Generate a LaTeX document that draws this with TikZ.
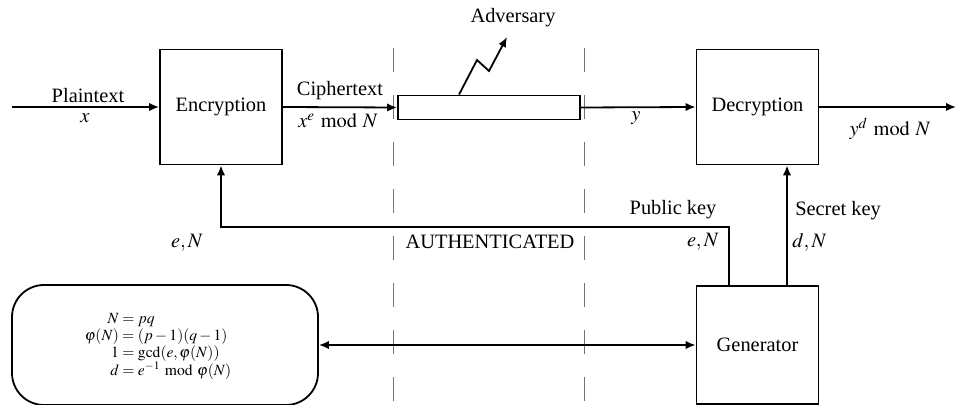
\documentclass[tikz,border=0pt]{standalone}
\usepackage{mathptmx}
\usepackage[no-math]{fontspec}
\setmainfont{Liberation Serif}
\usepackage{amsmath}
\usetikzlibrary{arrows.meta}

\tikzset{
  wire/.style={line width=0.9pt, draw=black},
  arr/.style={wire, -{Latex[length=5pt,width=4.2pt]}},
  darr/.style={wire, {Latex[length=5pt,width=4.2pt]}-{Latex[length=5pt,width=4.2pt]}},
  blockbox/.style={draw, line width=0.9pt, minimum width=61pt, minimum height=57.5pt, inner sep=0pt},
  chanbox/.style={draw, line width=0.9pt, minimum width=91pt, minimum height=12pt, inner sep=0pt},
  pillbox/.style={draw, line width=0.9pt, rounded corners=16pt, minimum width=153pt, minimum height=60pt, inner sep=0pt},
  lbl/.style={inner sep=0pt},
  zone/.style={draw=black!55, line width=0.5pt, dash pattern=on 12pt off 11.5pt},
}

\begin{document}
\begin{tikzpicture}[x=0.5pt, y=-0.5pt, font=\fontsize{10.2}{12}\selectfont]
  \useasboundingbox (0,0) rectangle (957,405);

  % trust boundary of the channel
  \draw[zone] (393,48) -- (393,405);
  \draw[zone] (584,48) -- (584,405);

  % blocks
  \node[blockbox] (enc) at (221,107) {Encryption};
  \node[blockbox] (dec) at (757.5,107) {Decryption};
  \node[blockbox, minimum height=59pt] (gen) at (757.5,345) {Generator};
  \node[chanbox, fill=white] (chan) at (489,107.5) {};
  \node[pillbox] (keys) at (165,345) {};
  \node[lbl, xshift=-3.5pt, yshift=-0.5pt] (keyeqs) at (keys.center) {%
    \fontsize{7.8}{8.5}\selectfont
    \begin{tabular}{@{}r@{${}={}$}l@{}}
      $N$ & $pq$\\
      $\varphi(N)$ & $(p-1)(q-1)$\\
      $1$ & $\gcd(e,\varphi(N))$\\
      $d$ & $e^{-1} \bmod \varphi(N)$
    \end{tabular}};

  % free ends and bends
  \coordinate (src) at (12,107);
  \coordinate (dst) at (956,107);
  \coordinate (pkbend) at (729,227);
  \coordinate (skx) at (787,0);
  \coordinate (advfoot) at (459,0);
  \coordinate (advtip) at (507,37);

  % data path
  \draw[arr] (src) -- (enc.west);
  \draw[arr] (enc.east) -- (chan.west);
  \draw[arr] (chan.east) -- (dec.west);
  \draw[arr] (dec.east) -- (dst);

  % adversary
  \draw[arr] (chan.north -| advfoot) -- (477,60) -- (489,71) -- (advtip);

  % key distribution
  \draw[arr] (gen.north -| pkbend) -- (pkbend) -| (enc.south);
  \draw[arr] (gen.north -| skx) -- (dec.south -| skx);
  \draw[darr] (keys.east) -- (gen.west);

  % labels
  \node[lbl] (lpt) at (88,96) {Plaintext};
  \node[lbl] (lx) at (85,118) {$x$};
  \node[lbl] (lct) at (340,91) {Ciphertext};
  \node[lbl] (lxe) at (338,121) {$x^e \bmod N$};
  \node[lbl] (ly) at (636,118) {$y$};
  \node[lbl] (lyd) at (890,129) {$y^d \bmod N$};
  \node[lbl] (ladv) at (513,18) {Adversary};
  \node[lbl] (leN) at (187,243) {$e,N$};
  \node[lbl] (lauth) at (490,242) {AUTHENTICATED};
  \node[lbl] (lpk) at (673,210) {Public key};
  \node[lbl, anchor=east] (leN2) at (719,242) {$e,N$};
  \node[lbl] (lsk) at (838,211) {Secret key};
  \node[lbl, anchor=west] (ldN) at (792,242) {$d,N$};
\end{tikzpicture}
\end{document}
